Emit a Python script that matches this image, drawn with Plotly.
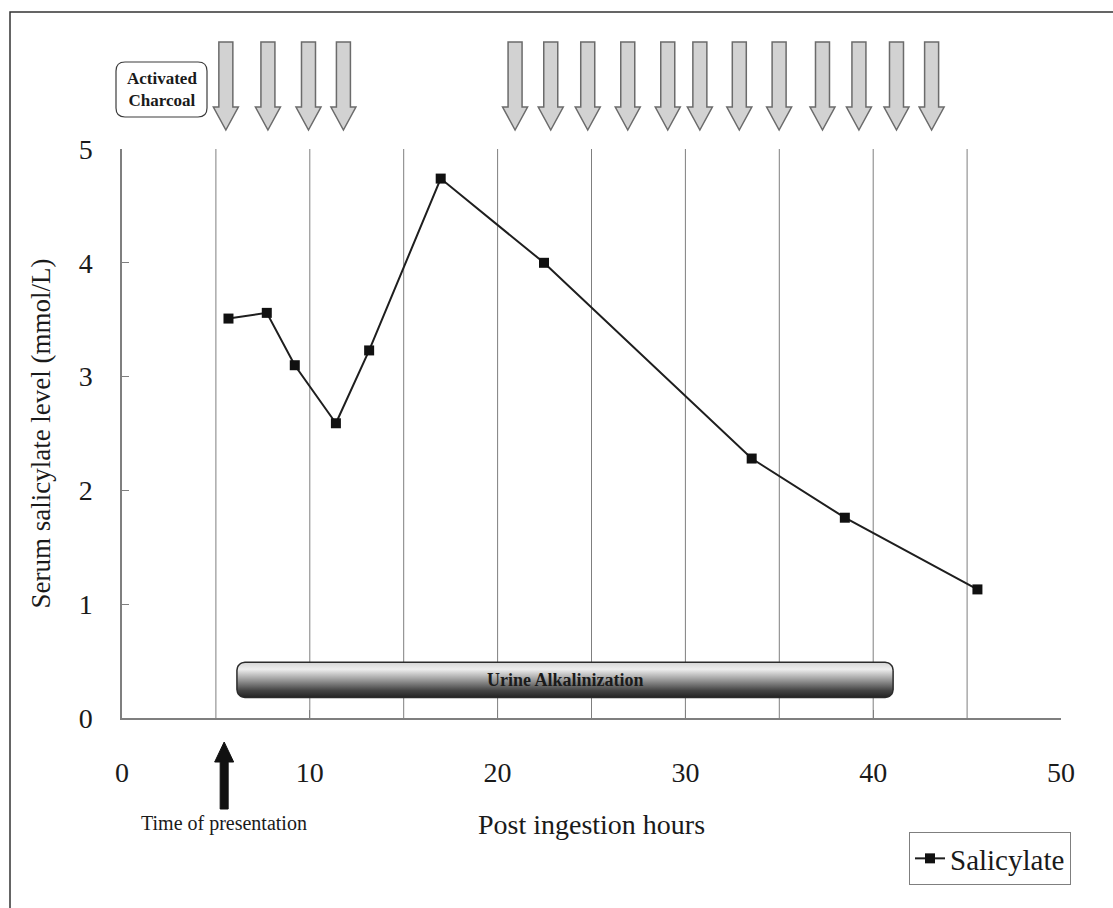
import math
import plotly.graph_objects as go

# ---------------- data ----------------
HOURS = [5.67, 7.71, 9.20, 11.39, 13.16, 16.97, 22.47, 33.53, 38.49, 45.55]
SALICYLATE = [3.51, 3.56, 3.10, 2.59, 3.23, 4.74, 4.00, 2.28, 1.76, 1.13]
CHARCOAL_HOURS = [5.53, 7.77, 9.93, 11.79, 20.93, 22.83, 24.80, 26.93,
                  29.06, 30.77, 32.87, 34.99, 37.30, 39.24, 41.24, 43.11]
ALKALINIZATION_START = 6.12
ALKALINIZATION_END = 41.06
ALKALINIZATION_LEVEL = (0.18, 0.49)
PRESENTATION_HOUR = 5.44
X_TICKS = [0, 10, 20, 30, 40, 50]
Y_TICKS = [0, 1, 2, 3, 4, 5]
GRID_HOURS = [5, 10, 15, 20, 25, 30, 35, 40, 45]
X_RANGE = [0, 50]
Y_RANGE = [0, 5]

# ---------------- layout constants ----------------
W, H = 1113, 908
ML, MR, MT, MB = 122, 52, 149, 190
PW, PH = W - ML - MR, H - MT - MB
PX_X = PW / (X_RANGE[1] - X_RANGE[0])
PX_Y = PH / (Y_RANGE[1] - Y_RANGE[0])
SERIF = "Liberation Serif, Times New Roman, serif"
GRAY = "#7f7f7f"
INK = "#1a1a1a"

fig = go.Figure()


def rounded_rect(x0, x1, y0, y1, r_px):
    rx, ry = r_px / PX_X, r_px / PX_Y
    xs, ys = [], []
    corners = [(x1 - rx, y1 - ry, 0, 90), (x0 + rx, y1 - ry, 90, 180),
               (x0 + rx, y0 + ry, 180, 270), (x1 - rx, y0 + ry, 270, 360)]
    for cx, cy, a0, a1 in corners:
        for k in range(9):
            a = math.radians(a0 + (a1 - a0) * k / 8)
            xs.append(cx + rx * math.cos(a))
            ys.append(cy + ry * math.sin(a))
    xs.append(xs[0]); ys.append(ys[0])
    return xs, ys


# Urine alkalinization bar (rounded, vertical gradient)
bx, by = rounded_rect(ALKALINIZATION_START, ALKALINIZATION_END,
                      ALKALINIZATION_LEVEL[0], ALKALINIZATION_LEVEL[1], 8)
fig.add_trace(go.Scatter(
    x=bx, y=by, mode="lines", fill="toself",
    line=dict(color="#2b2b2b", width=1.5),
    fillgradient=dict(type="vertical",
                      colorscale=[[0, "#232323"], [0.2, "#444444"],
                                  [0.5, "#9a9a9a"], [0.8, "#eeeeee"],
                                  [1, "#d5d5d5"]]),
    showlegend=False, hoverinfo="skip"))

# Salicylate series
fig.add_trace(go.Scatter(
    x=HOURS, y=SALICYLATE, mode="lines+markers", name="Salicylate",
    line=dict(color="#1e1e1e", width=2),
    marker=dict(symbol="square", size=10, color="#111111")))

shapes = []
# vertical gridlines
for h in GRID_HOURS:
    shapes.append(dict(type="line", xref="x", yref="paper", x0=h, x1=h,
                       y0=0, y1=1, line=dict(color=GRAY, width=1), layer="below"))

# activated charcoal arrows
top, neck, tip = 1 + 107 / PH, 1 + 42 / PH, 1 + 19 / PH
hs, hh = 7 / PX_X, 12.5 / PX_X
for c in CHARCOAL_HOURS:
    p = (f"M {c-hs},{top} L {c+hs},{top} L {c+hs},{neck} L {c+hh},{neck} "
         f"L {c},{tip} L {c-hh},{neck} L {c-hs},{neck} Z")
    shapes.append(dict(type="path", xref="x", yref="paper", path=p,
                       fillcolor="#d2d2d2", line=dict(color="#6b6b6b", width=1.5)))

# time of presentation arrow (black, up)
t_tip, t_neck, t_bot = -24 / PH, -44 / PH, -91 / PH
ths, thh = 4 / PX_X, 9.5 / PX_X
c = PRESENTATION_HOUR
p = (f"M {c-ths},{t_bot} L {c+ths},{t_bot} L {c+ths},{t_neck} L {c+thh},{t_neck} "
     f"L {c},{t_tip} L {c-thh},{t_neck} L {c-ths},{t_neck} Z")
shapes.append(dict(type="path", xref="x", yref="paper", path=p,
                   fillcolor="#111111", line=dict(color="#111111", width=1)))

# Activated Charcoal rounded box (paper coords)
bx0, bx1 = (116 - ML) / PW, (207 - ML) / PW
by0, by1 = (H - MB - 117) / PH, (H - MB - 62) / PH
rx, ry = 9 / PW, 9 / PH
p = (f"M {bx0+rx},{by1} L {bx1-rx},{by1} Q {bx1},{by1} {bx1},{by1-ry} "
     f"L {bx1},{by0+ry} Q {bx1},{by0} {bx1-rx},{by0} L {bx0+rx},{by0} "
     f"Q {bx0},{by0} {bx0},{by0+ry} L {bx0},{by1-ry} Q {bx0},{by1} {bx0+rx},{by1} Z")
shapes.append(dict(type="path", xref="paper", yref="paper", path=p,
                   fillcolor="white", line=dict(color="#3c3c3c", width=1.2)))

# outer frame (top and left edges)
fx, fy = (10 - ML) / PW, (H - MB - 12) / PH
p = f"M {fx},-0.5 L {fx},{fy} L 1.2,{fy}"
shapes.append(dict(type="path", xref="paper", yref="paper", path=p,
                   line=dict(color="#333333", width=1.5)))

annotations = [
    dict(x=(ALKALINIZATION_START + ALKALINIZATION_END) / 2,
         y=sum(ALKALINIZATION_LEVEL) / 2, xref="x", yref="y",
         xanchor="center", yanchor="middle",
         text="<b>Urine Alkalinization</b>", showarrow=False,
         font=dict(family=SERIF, size=18, color=INK)),
    dict(x=(bx0 + bx1) / 2, y=(by0 + by1) / 2, xref="paper", yref="paper",
         xanchor="center", yanchor="middle",
         text="<b>Activated<br>Charcoal</b>", showarrow=False,
         font=dict(family=SERIF, size=17, color=INK)),
    dict(x=PRESENTATION_HOUR, y=-105 / PH, xref="x", yref="paper",
         xanchor="center", yanchor="middle",
         text="Time of presentation", showarrow=False,
         font=dict(family=SERIF, size=20, color=INK)),
]

fig.update_layout(
    width=W, height=H,
    margin=dict(l=ML, r=MR, t=MT, b=MB, autoexpand=False),
    paper_bgcolor="white", plot_bgcolor="white",
    font=dict(family=SERIF, color=INK),
    shapes=shapes, annotations=annotations,
    showlegend=True,
    legend=dict(x=(1071 - ML) / PW, xanchor="right",
                y=(H - MB - 832) / PH, yanchor="top",
                bordercolor=GRAY, borderwidth=1, bgcolor="white",
                font=dict(family=SERIF, size=29, color=INK),
                itemwidth=30),
    xaxis=dict(range=X_RANGE, tickvals=X_TICKS, ticks="inside", ticklen=8,
               tickcolor=GRAY, showline=True, linecolor=GRAY, linewidth=1.5,
               showgrid=False, zeroline=False, ticklabelstandoff=29,
               tickfont=dict(family=SERIF, size=28, color=INK),
               title=dict(text="Post ingestion hours", standoff=27,
                          font=dict(family=SERIF, size=28, color=INK))),
    yaxis=dict(range=Y_RANGE, tickvals=Y_TICKS, ticks="inside", ticklen=7,
               tickcolor=GRAY, showline=True, linecolor=GRAY, linewidth=1.5,
               showgrid=False, zeroline=False, ticklabelstandoff=22,
               tickfont=dict(family=SERIF, size=28, color=INK),
               title=dict(text="Serum salicylate level (mmol/L)", standoff=20,
                          font=dict(family=SERIF, size=27, color=INK))),
)

fig.write_html("out.html", config={"displayModeBar": False},
               post_script="document.body.style.margin='0';")
